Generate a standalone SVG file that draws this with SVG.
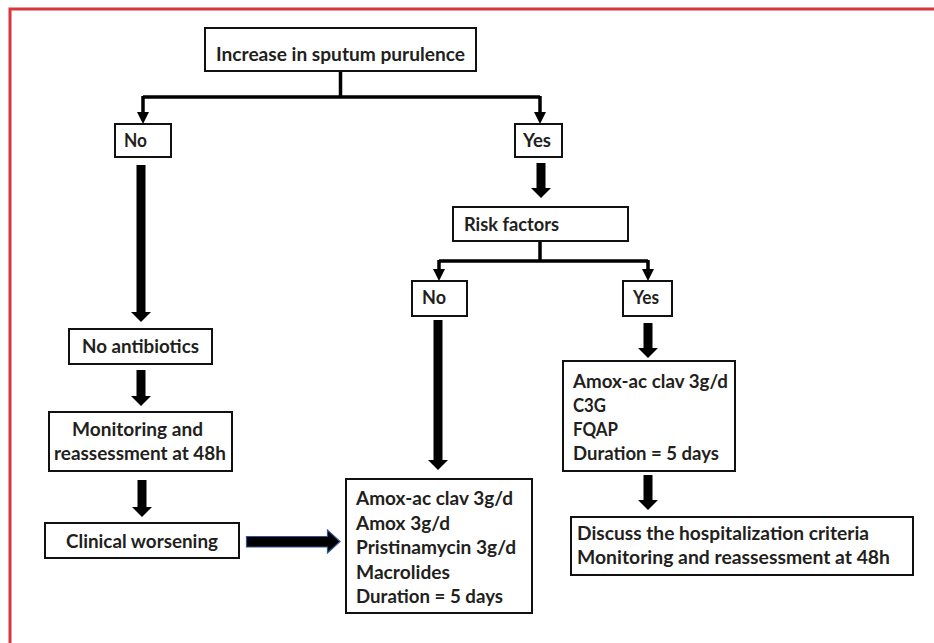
<svg xmlns="http://www.w3.org/2000/svg" width="934" height="643" viewBox="0 0 934 643">
<style>
.box{fill:#fff;stroke:#111;stroke-width:2}
.t{font-family:"Lato","Liberation Sans",sans-serif;font-weight:700;font-size:18px;fill:#231f20}
.thin{fill:none;stroke:#000;stroke-width:3.5}
.thick{fill:none;stroke:#000;stroke-width:9}
</style>
<defs>
<marker id="hThin" markerUnits="userSpaceOnUse" viewBox="0 -6 12 12" markerWidth="12" markerHeight="12" refX="0" refY="0" orient="auto">
<path d="M0,-6 L12,0 L0,6 Z" fill="#000"/>
</marker>
<marker id="hThick" markerUnits="userSpaceOnUse" viewBox="0 -10 10 20" markerWidth="10" markerHeight="20" refX="0" refY="0" orient="auto">
<path d="M0,-10 L10,0 L0,10 Z" fill="#000"/>
</marker>
</defs>
<rect width="934" height="643" fill="#fff"/>
<path d="M10,660 V9 H950" fill="none" stroke="#d8353d" stroke-width="3"/>

<g id="connectors">
<path class="thin" d="M340.5,71 V97 M143,97 H540"/>
<path class="thin" d="M143,96 V112" marker-end="url(#hThin)"/>
<path class="thin" d="M540,96 V112" marker-end="url(#hThin)"/>
<path class="thin" d="M540,241 V261 M439,261 H648"/>
<path class="thin" d="M439,260 V269" marker-end="url(#hThin)"/>
<path class="thin" d="M648,260 V269" marker-end="url(#hThin)"/>
<path class="thick" d="M141,165 V312" marker-end="url(#hThick)"/>
<path class="thick" d="M541,163 V188" marker-end="url(#hThick)"/>
<path class="thick" d="M141,370 V396" marker-end="url(#hThick)"/>
<path class="thick" d="M142,480 V507" marker-end="url(#hThick)"/>
<path class="thick" d="M438,320 V460" marker-end="url(#hThick)"/>
<path class="thick" d="M648,323 V348" marker-end="url(#hThick)"/>
<path class="thick" d="M648,475 V500" marker-end="url(#hThick)"/>
<path d="M246.5,536.5 H327.5 V530 L340,541.5 L327.5,553 V547 H246.5 Z" fill="#000" stroke="#2f5597" stroke-width="1.2"/>
</g>

<g id="sputum"><rect class="box" x="205" y="28" width="271" height="43"/><text class="t" x="216" y="61" textLength="249" lengthAdjust="spacingAndGlyphs">Increase in sputum purulence</text></g>
<g id="no1"><rect class="box" x="115" y="124" width="56" height="33"/><text class="t" x="124" y="147" textLength="23" lengthAdjust="spacingAndGlyphs">No</text></g>
<g id="yes1"><rect class="box" x="515" y="124" width="47" height="33"/><text class="t" x="523" y="147" textLength="28" lengthAdjust="spacingAndGlyphs">Yes</text></g>
<g id="risk"><rect class="box" x="453" y="207" width="175" height="34"/><text class="t" x="464" y="231" textLength="95" lengthAdjust="spacingAndGlyphs">Risk factors</text></g>
<g id="no2"><rect class="box" x="412" y="281" width="55" height="35"/><text class="t" x="422" y="304" textLength="24" lengthAdjust="spacingAndGlyphs">No</text></g>
<g id="yes2"><rect class="box" x="623" y="281" width="49" height="35"/><text class="t" x="633" y="304" textLength="26" lengthAdjust="spacingAndGlyphs">Yes</text></g>
<g id="noAntibiotics"><rect class="box" x="69" y="329" width="143" height="35"/><text class="t" x="82" y="353" textLength="117" lengthAdjust="spacingAndGlyphs">No antibiotics</text></g>
<g id="monitoring"><rect class="box" x="49" y="412" width="183" height="59"/><text class="t" x="72" y="436" textLength="131" lengthAdjust="spacingAndGlyphs">Monitoring and</text><text class="t" x="54" y="460" textLength="172" lengthAdjust="spacingAndGlyphs">reassessment at 48h</text></g>
<g id="worsening"><rect class="box" x="45" y="523" width="194" height="35"/><text class="t" x="66" y="548" textLength="152" lengthAdjust="spacingAndGlyphs">Clinical worsening</text></g>
<g id="treatmentNo"><rect class="box" x="346" y="479" width="186" height="134"/>
<text class="t" x="356" y="505" textLength="157" lengthAdjust="spacingAndGlyphs">Amox-ac clav 3g/d</text>
<text class="t" x="356" y="529.5" textLength="94" lengthAdjust="spacingAndGlyphs">Amox 3g/d</text>
<text class="t" x="356" y="554" textLength="160" lengthAdjust="spacingAndGlyphs">Pristinamycin 3g/d</text>
<text class="t" x="356" y="578.5" textLength="94" lengthAdjust="spacingAndGlyphs">Macrolides</text>
<text class="t" x="356" y="603" textLength="147" lengthAdjust="spacingAndGlyphs">Duration = 5 days</text></g>
<g id="treatmentYes"><rect class="box" x="563" y="361" width="172" height="110"/>
<text class="t" x="573" y="388" textLength="155" lengthAdjust="spacingAndGlyphs">Amox-ac clav 3g/d</text>
<text class="t" x="573" y="412" textLength="33" lengthAdjust="spacingAndGlyphs">C3G</text>
<text class="t" x="573" y="436" textLength="45" lengthAdjust="spacingAndGlyphs">FQAP</text>
<text class="t" x="573" y="460" textLength="146" lengthAdjust="spacingAndGlyphs">Duration = 5 days</text></g>
<g id="discuss"><rect class="box" x="571" y="517" width="342" height="58"/>
<text class="t" x="577" y="540" textLength="292" lengthAdjust="spacingAndGlyphs">Discuss the hospitalization criteria</text>
<text class="t" x="577" y="564" textLength="313" lengthAdjust="spacingAndGlyphs">Monitoring and reassessment at 48h</text></g>
</svg>
